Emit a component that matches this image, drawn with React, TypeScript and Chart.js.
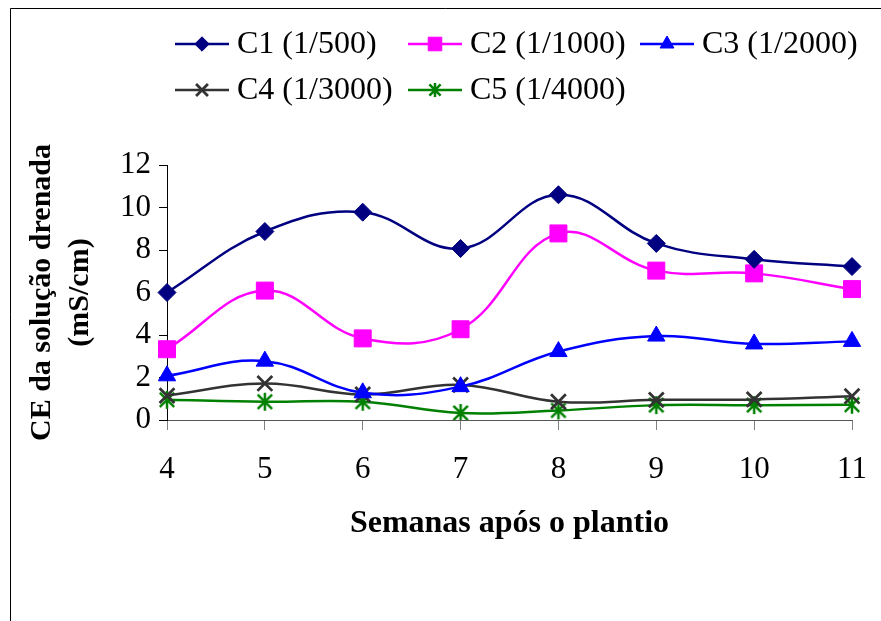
import React, { useEffect, useRef } from "react";
import { Chart, registerables } from "chart.js";
import { drawPoint } from "chart.js/helpers";

Chart.register(...registerables);

const weeks = ["4", "5", "6", "7", "8", "9", "10", "11"];
const c1 = [6.0, 8.87, 9.78, 8.07, 10.6, 8.31, 7.56, 7.22];
const c2 = [3.33, 6.09, 3.84, 4.27, 8.78, 7.03, 6.9, 6.16];
const c3 = [2.08, 2.77, 1.28, 1.57, 3.22, 3.95, 3.58, 3.7];
const c4 = [1.15, 1.72, 1.2, 1.65, 0.86, 0.95, 0.97, 1.12];
const c5 = [0.95, 0.86, 0.86, 0.33, 0.45, 0.7, 0.7, 0.72];
const seriesLabels = ["C1 (1/500)", "C2 (1/1000)", "C3 (1/2000)", "C4 (1/3000)", "C5 (1/4000)"];
const yTitle = ["CE da solução drenada", "(mS/cm)"];
const xTitle = "Semanas após o plantio";

const SERIF = "'Liberation Serif', 'Times New Roman', serif";

function makeAsterisk(color: string, size: number) {
  const c = document.createElement("canvas");
  c.width = size;
  c.height = size;
  const g = c.getContext("2d")!;
  const m = size / 2;
  const h = size / 2 - 1;
  const d = h * 0.8;
  g.strokeStyle = color;
  g.lineWidth = 2.5;
  g.beginPath();
  g.moveTo(m, m - h);
  g.lineTo(m, m + h);
  g.moveTo(m - d, m - d);
  g.lineTo(m + d, m + d);
  g.moveTo(m + d, m - d);
  g.lineTo(m - d, m + d);
  g.stroke();
  return c;
}

const framePlugin = {
  id: "frame",
  beforeDraw(chart: any) {
    const ctx = chart.ctx;
    ctx.save();
    ctx.fillStyle = "#fff";
    ctx.fillRect(0, 0, chart.width, chart.height);
    ctx.strokeStyle = "#000";
    ctx.lineWidth = 1;
    ctx.beginPath();
    ctx.moveTo(10.5, chart.height);
    ctx.lineTo(10.5, 8.5);
    ctx.lineTo(chart.width, 8.5);
    ctx.stroke();
    ctx.restore();
  },
};

const legendSlots = [
  [175, 44],
  [408, 44],
  [640, 44],
  [175, 90],
  [408, 90],
];

const legendPlugin = {
  id: "customLegend",
  afterDraw(chart: any) {
    const ctx = chart.ctx;
    ctx.save();
    chart.data.datasets.forEach((ds: any, i: number) => {
      const [x, y] = legendSlots[i];
      ctx.strokeStyle = ds.borderColor;
      ctx.lineWidth = ds.borderWidth;
      ctx.beginPath();
      ctx.moveTo(x, y);
      ctx.lineTo(x + 54, y);
      ctx.stroke();
      ctx.fillStyle = ds.pointBackgroundColor;
      ctx.strokeStyle = ds.pointBorderColor;
      ctx.lineWidth = ds.pointBorderWidth;
      drawPoint(
        ctx,
        {
          pointStyle: ds.legendStyle || ds.pointStyle,
          radius: ds.pointRadius * 0.8,
          rotation: 0,
          borderWidth: ds.pointBorderWidth,
        } as any,
        x + 27,
        y
      );
      ctx.fillStyle = "#000";
      ctx.font = `32px ${SERIF}`;
      ctx.textAlign = "left";
      ctx.textBaseline = "middle";
      ctx.fillText(ds.label, x + 62, y + 1);
    });
    ctx.restore();
  },
};

export default function App() {
  const ref = useRef<HTMLCanvasElement>(null);

  useEffect(() => {
    if (!ref.current) return;
    const star = makeAsterisk("#008000", 20);
    const starSmall = makeAsterisk("#008000", 16);
    const mk = (
      label: string,
      data: number[],
      color: string,
      pointStyle: any,
      radius: number,
      bw: number
    ) => ({
      label,
      data,
      borderColor: color,
      backgroundColor: color,
      borderWidth: 2.5,
      tension: 0.4,
      pointStyle,
      pointRadius: radius,
      pointHoverRadius: radius,
      pointBackgroundColor: color,
      pointBorderColor: color,
      pointBorderWidth: bw,
    });
    const d5: any = mk(seriesLabels[4], c5, "#008000", star, 10, 0);
    d5.legendStyle = starSmall;
    const chart = new Chart(ref.current, {
      type: "line",
      data: {
        labels: weeks,
        datasets: [
          mk(seriesLabels[0], c1, "#000080", "rectRot", 9, 1),
          mk(seriesLabels[1], c2, "#FF00FF", "rect", 12, 1),
          mk(seriesLabels[2], c3, "#0000FF", "triangle", 10, 1),
          mk(seriesLabels[3], c4, "#333333", "crossRot", 10.5, 2.8),
          d5,
        ],
      },
      options: {
        responsive: false,
        animation: false,
        devicePixelRatio: 1,
        layout: { padding: { top: 165, left: 0, right: 29, bottom: 0 } },
        plugins: {
          legend: { display: false },
          title: { display: false },
          tooltip: { enabled: false },
        },
        scales: {
          x: {
            type: "category",
            offset: false,
            afterFit: (s: any) => {
              s.height = 201;
              s.paddingLeft = 0;
              s.paddingRight = 0;
            },
            grid: {
              display: true,
              drawOnChartArea: false,
              drawTicks: true,
              tickLength: 10,
              color: "#808080",
            },
            border: { display: true, color: "#555", width: 1 },
            ticks: {
              color: "#000",
              font: { family: SERIF, size: 31 },
              padding: 21,
              maxRotation: 0,
              autoSkip: false,
            },
            title: {
              display: true,
              text: xTitle,
              color: "#000",
              font: { family: SERIF, size: 32, weight: "bold" },
              padding: { top: 0, bottom: 78 },
            },
          },
          y: {
            min: 0,
            max: 12,
            afterFit: (s: any) => {
              s.width = 167;
            },
            ticks: {
              stepSize: 2,
              color: "#000",
              font: { family: SERIF, size: 31 },
              padding: 8,
            },
            grid: {
              display: true,
              drawOnChartArea: false,
              drawTicks: true,
              tickLength: 8,
              color: "#000",
            },
            border: { display: true, color: "#000", width: 1 },
            title: {
              display: true,
              text: yTitle,
              color: "#000",
              font: { family: SERIF, size: 30, weight: "bold", lineHeight: "38px" },
              padding: { top: 23, bottom: 0 },
            },
          },
        },
      },
      plugins: [framePlugin, legendPlugin],
    } as any);
    return () => chart.destroy();
  }, []);

  return (
    <div style={{ position: "absolute", left: 0, top: 0, width: 881, height: 621 }}>
      <canvas ref={ref} width={881} height={621} style={{ display: "block" }} />
    </div>
  );
}
